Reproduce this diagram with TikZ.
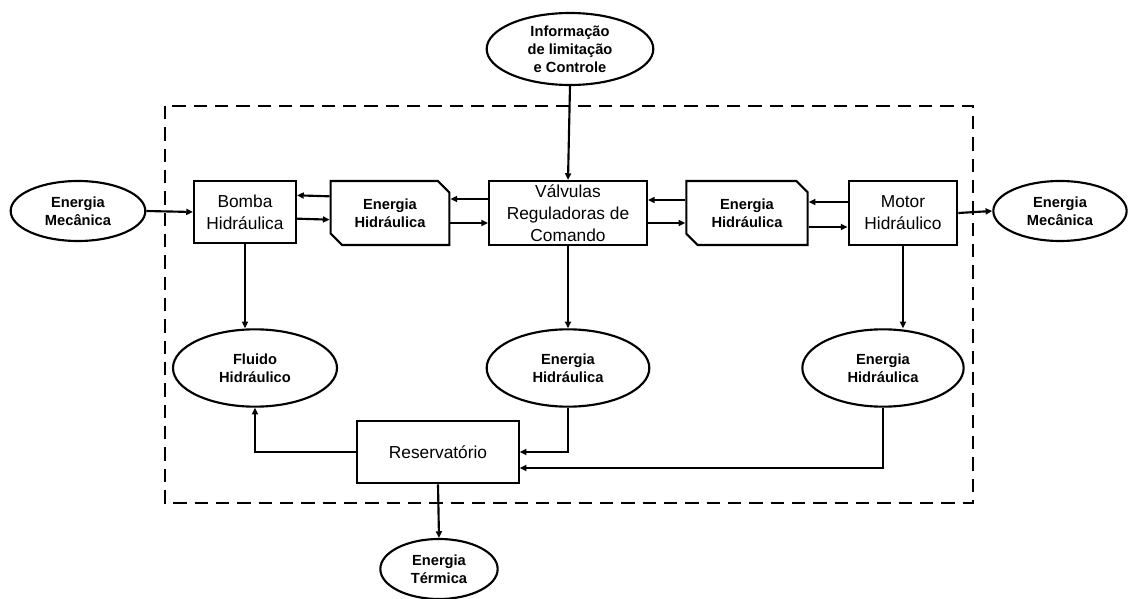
\documentclass[tikz,border=0pt]{standalone}
\usepackage{fontspec}
\setmainfont{Liberation Sans}
\usetikzlibrary{positioning,arrows.meta,calc,shapes.geometric,shapes.misc}

\begin{document}
\begin{tikzpicture}[x=0.75pt,y=-0.75pt,
    blk/.style={draw,line width=1.6pt,align=center,inner sep=0pt,
      font=\fontsize{13}{16.5}\selectfont},
    ehbox/.style={draw,line width=1.6pt,chamfered rectangle,
      chamfered rectangle corners={north east,south west},
      chamfered rectangle xsep=5pt,inner sep=0pt,align=center,
      minimum width=89pt,minimum height=48pt,
      font=\fontsize{11}{13.5}\selectfont\bfseries},
    oval/.style={draw,line width=1.6pt,ellipse,inner sep=0pt,align=center,
      font=\fontsize{11}{13.5}\selectfont\bfseries},
    arr/.style={line width=1.6pt,-{Triangle[length=5pt,width=4.5pt]}}]
  \useasboundingbox (0,0) rectangle (1133,599);
  % system border
  \draw[line width=1.6pt,dash pattern=on 10pt off 6pt] (165,106) rectangle (973,503);
  % top row
  \node[oval,minimum width=101pt,minimum height=45pt] (mecL) at (78,211) {Energia\\Mecânica};
  \node[blk,minimum width=76.5pt,minimum height=46.5pt] (bomba) at (245,212) {Bomba\\Hidráulica};
  \node[ehbox] (eh1) at (390,213) {Energia\\Hidráulica};
  \node[blk,minimum width=118.5pt,minimum height=48pt] (valv) at (568,213) {Válvulas\\Reguladoras de\\Comando};
  \node[ehbox,minimum width=91pt] (eh2) at (747,213) {Energia\\Hidráulica};
  \node[blk,minimum width=81.5pt,minimum height=48pt] (motor) at (903,213) {Motor\\Hidráulico};
  \node[oval,minimum width=100pt,minimum height=45pt] (mecR) at (1060,211) {Energia\\Mecânica};
  \node[oval,minimum width=125pt,minimum height=54pt] (info) at (570,49) {Informação\\de limitação\\e Controle};
  % middle row
  \node[oval,minimum width=123pt,minimum height=58pt] (fluido) at (255,368) {Fluido\\Hidráulico};
  \node[oval,minimum width=122pt,minimum height=58pt] (ehm) at (568,368) {Energia\\Hidráulica};
  \node[oval,minimum width=121pt,minimum height=58pt] (ehr) at (883,368) {Energia\\Hidráulica};
  % bottom
  \node[blk,minimum width=121pt,minimum height=47pt] (res) at (438,452) {Reservatório};
  \node[oval,minimum width=88pt,minimum height=45pt] (term) at (439,569) {Energia\\Térmica};
  % connections
  \draw[arr] (mecL.east) -- (bomba.west);
  \draw[arr] ([yshift=12.5pt]eh1.west) -- ([yshift=12.5pt]bomba.east);
  \draw[arr] ([yshift=-5pt]bomba.east) -- ([yshift=-5pt]eh1.west);
  \draw[arr] ([yshift=10.5pt]valv.west) -- ([yshift=10.5pt]eh1.east);
  \draw[arr] ([yshift=-7.5pt]eh1.east) -- ([yshift=-7.5pt]valv.west);
  \draw[arr] ([yshift=9.75pt]eh2.west) -- ([yshift=9.75pt]valv.east);
  \draw[arr] ([yshift=-7.5pt]valv.east) -- ([yshift=-7.5pt]eh2.west);
  \draw[arr] ([yshift=8.25pt]motor.west) -- ([yshift=8.25pt]eh2.east);
  \draw[arr] ([yshift=-10.5pt]eh2.east) -- ([yshift=-10.5pt]motor.west);
  \draw[arr] (motor.east) -- (mecR.west);
  \draw[arr] (info.south) -- (valv.north);
  \draw[arr] (bomba.south) -- (bomba.south |- fluido.north);
  \draw[arr] (valv.south) -- (ehm.north);
  \draw[arr] (motor.south) -- (motor.south |- ehr.north);
  \draw[arr] (res.west) -| (fluido.south);
  \draw[arr] (ehm.south) |- (res.east);
  \draw[arr] (ehr.south) |- ([yshift=-12pt]res.east);
  \draw[arr] (res.south) -- (term.north);
\end{tikzpicture}
\end{document}
